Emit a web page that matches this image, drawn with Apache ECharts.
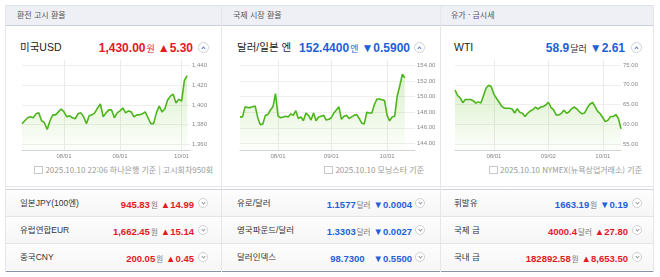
<!DOCTYPE html>
<html lang="ko">
<head>
<meta charset="utf-8">
<script src="https://cdn.jsdelivr.net/npm/echarts@6/dist/echarts.min.js"></script>
<style>
  body{margin:0;width:660px;height:277px;position:relative;overflow:hidden;background:#fff;
    font-family:"Liberation Sans","Noto Sans CJK KR",sans-serif;color:#222}
  .a{position:absolute}
  .hd{left:5px;top:5px;width:648px;height:19px;background:#eef0f5;border-top:1px solid #dde1e8;border-bottom:1px solid #c9ced8}
  .col{position:absolute;top:0;height:277px}
  .htxt{top:5px;line-height:20px;font-size:8px;color:#555;font-family:"Noto Sans CJK KR",sans-serif}
  .vl{top:5px;width:1px;height:267px;background:#e4e6ea}
  .name{top:39px;line-height:16px;font-size:10.5px;color:#222}
  .val{top:38px;line-height:18px;white-space:nowrap}
  .val b{font-size:12px}
  .val i{font-style:normal;font-size:9px;font-family:"Noto Sans CJK KR",sans-serif;margin:0 3px 0 1px}
  .red{color:#e3191f}
  .blue{color:#1f5fd8}
  .btn{width:9px;height:9px;border:1px solid #cfd2d8;border-radius:50%;background:#fff}
  .btn:after{content:"";position:absolute;left:3px;width:2px;height:2px;border-left:1px solid #5b77c4;border-top:1px solid #5b77c4}
  .up:after{top:4px;transform:rotate(45deg)}
  .dn{width:8px;height:8px}
  .dn:after{top:2px;left:2.5px;border-color:#999;transform:rotate(225deg)}
  .foot{top:164px;line-height:12px;font-size:8px;color:#999;white-space:nowrap;font-family:"Noto Sans CJK KR",sans-serif}
  .foot s{display:inline-block;width:7px;height:6px;border:1px solid #c8c8c8;margin-right:2px;vertical-align:-1px}
  .sep{left:5px;width:649px;height:1px}
  .row{height:26px;left:0;right:0;background:linear-gradient(#fdfdfd,#f6f6f6);border-bottom:1px solid #e2e4e8}
  .lab{font-size:8.5px;line-height:26px;color:#333}
  .rv{line-height:26px;white-space:nowrap}
  .rv b{font-size:9.5px}
  .rv i{font-style:normal;font-size:7.5px;color:#777;margin:0 3px 0 1px;font-family:"Noto Sans CJK KR",sans-serif}
  .chart{top:55px;height:115px}
</style>
</head>
<body>
<div class="a hd"></div>
<div class="a sep" style="top:186px;background:#e6e6e6"></div>
<div class="a sep" style="top:189px;background:#cfd3da"></div>
<div class="a sep" style="top:271px;height:1px;background:#8a93a5"></div>

<!-- 환전 고시 환율 -->
<div class="col" style="left:5px;width:216px">
  <div class="a htxt" style="left:12px">환전 고시 환율</div>
  <div class="a name" style="left:15px">미국USD</div>
  <div class="a val red" style="right:28px"><b>1,430.00</b><i>원</i><b>▲5.30</b></div>
  <div class="a btn up" style="left:193px;top:42px"></div>
  <div class="a foot" style="right:8px"><s></s>2025.10.10 22:06 하나은행 기준 | 고시회차950회</div>
  <div class="a" style="top:190px;left:0;right:0">
    <div class="row" style="position:relative"><span class="a lab" style="left:15px">일본JPY(100엔)</span><span class="a rv red" style="right:27px"><b>945.83</b><i>원</i><b>▲14.99</b></span><span class="a btn dn" style="left:193px;top:8px"></span></div>
    <div class="row" style="position:relative"><span class="a lab" style="left:15px">유럽연합EUR</span><span class="a rv red" style="right:27px"><b>1,662.45</b><i>원</i><b>▲15.14</b></span><span class="a btn dn" style="left:193px;top:8px"></span></div>
    <div class="row" style="position:relative;border-bottom:none"><span class="a lab" style="left:15px">중국CNY</span><span class="a rv red" style="right:27px"><b>200.05</b><i>원</i><b>▲0.45</b></span><span class="a btn dn" style="left:193px;top:8px"></span></div>
  </div>
  <div id="c1" class="a chart" style="left:0;width:216px"></div>
</div>

<!-- 국제 시장 환율 -->
<div class="col" style="left:221px;width:219px">
  <div class="a htxt" style="left:12px">국제 시장 환율</div>
  <div class="a name" style="left:16px">달러/일본 엔</div>
  <div class="a val blue" style="right:30px"><b>152.4400</b><i>엔</i><b>▼0.5900</b></div>
  <div class="a btn up" style="left:193px;top:42px"></div>
  <div class="a foot" style="right:16px"><s></s>2025.10.10 모닝스타 기준</div>
  <div class="a" style="top:190px;left:0;right:0">
    <div class="row" style="position:relative"><span class="a lab" style="left:16px">유로/달러</span><span class="a rv blue" style="right:28px"><b>1.1577</b><i>달러</i><b>▼0.0004</b></span><span class="a btn dn" style="left:194px;top:8px"></span></div>
    <div class="row" style="position:relative"><span class="a lab" style="left:16px">영국파운드/달러</span><span class="a rv blue" style="right:28px"><b>1.3303</b><i>달러</i><b>▼0.0027</b></span><span class="a btn dn" style="left:194px;top:8px"></span></div>
    <div class="row" style="position:relative;border-bottom:none"><span class="a lab" style="left:16px">달러인덱스</span><span class="a rv blue" style="right:28px"><b>98.7300</b>&nbsp;&nbsp;<b>▼0.5500</b></span><span class="a btn dn" style="left:194px;top:8px"></span></div>
  </div>
  <div id="c2" class="a chart" style="left:0;width:219px"></div>
</div>

<!-- 유가 · 금시세 -->
<div class="col" style="left:440px;width:214px">
  <div class="a htxt" style="left:11px">유가 · 금시세</div>
  <div class="a name" style="left:14px">WTI</div>
  <div class="a val blue" style="right:29px"><b>58.9</b><i style="color:#333">달러</i><b>▼2.61</b></div>
  <div class="a btn up" style="left:191px;top:42px"></div>
  <div class="a foot" style="right:12px"><s></s>2025.10.10 NYMEX(뉴욕상업거래소) 기준</div>
  <div class="a" style="top:190px;left:0;right:0">
    <div class="row" style="position:relative"><span class="a lab" style="left:14px">휘발유</span><span class="a rv blue" style="right:26px"><b>1663.19</b><i>원</i><b>▼0.19</b></span><span class="a btn dn" style="left:192px;top:8px"></span></div>
    <div class="row" style="position:relative"><span class="a lab" style="left:14px">국제 금</span><span class="a rv red" style="right:26px"><b>4000.4</b><i>달러</i><b>▲27.80</b></span><span class="a btn dn" style="left:192px;top:8px"></span></div>
    <div class="row" style="position:relative;border-bottom:none"><span class="a lab" style="left:14px">국내 금</span><span class="a rv red" style="right:26px"><b>182892.58</b><i>원</i><b>▲8,653.50</b></span><span class="a btn dn" style="left:192px;top:8px"></span></div>
  </div>
  <div id="c3" class="a chart" style="left:0;width:214px"></div>
</div>

<div class="a vl" style="left:5px"></div>
<div class="a vl" style="left:221px"></div>
<div class="a vl" style="left:440px"></div>
<div class="a vl" style="left:653px"></div>

<script>
// 미국USD (하나은행 고시, 영업일)
const usdDates = ['07/11','07/14','07/15','07/16','07/17','07/18','07/21','07/22','07/23','07/24','07/25','07/28','07/29','07/30','07/31',
  '08/01','08/04','08/05','08/06','08/07','08/08','08/11','08/12','08/13','08/14','08/18','08/19','08/20','08/21','08/22','08/25','08/26','08/27','08/28','08/29',
  '09/01','09/02','09/03','09/04','09/05','09/08','09/09','09/10','09/11','09/12','09/15','09/16','09/17','09/18','09/19','09/22','09/23','09/24','09/25','09/26','09/29','09/30',
  '10/01','10/02','10/10']
const usdValues = [1381,1384,1387,1388,1387,1391,1392,1384,1382,1375,1384,1390,1390,1393,1396,
  1393,1388,1389,1387,1386,1391,1392,1388,1381,1389,1390,1392,1397,1401,1388,1392,1395,1395,1387,1392,
  1394,1397,1392,1394,1393,1388,1390,1390,1391,1393,1387,1381,1381,1392,1399,1393,1396,1405,1409,1411,1402,1406,
  1404,1425,1430]
const usdMonthTicks = ['08/01','09/01','10/01']
const usdYTicks = [1360,1380,1400,1420,1440]

// 달러/일본 엔
const jpyDates = ['07/11','07/14','07/15','07/16','07/17','07/18','07/21','07/22','07/23','07/24','07/25','07/28','07/29','07/30','07/31',
  '08/01','08/04','08/05','08/06','08/07','08/08','08/11','08/12','08/13','08/14','08/15','08/18','08/19','08/20','08/21','08/22','08/25','08/26','08/27','08/28','08/29',
  '09/01','09/02','09/03','09/04','09/05','09/08','09/09','09/10','09/11','09/12','09/15','09/16','09/17','09/18','09/19','09/22','09/23','09/24','09/25','09/26','09/29','09/30',
  '10/01','10/02','10/03','10/06','10/07','10/08','10/09','10/10']
const jpyValues = [147.4,147.4,148.7,148.6,148.6,148.7,148.8,147.3,146.4,146.5,147.6,147.7,148.3,148.7,150.4,
  147.5,147.3,147.4,147.5,147.4,147.8,147.6,148.2,147.2,147.4,146.9,147.9,147.6,147.0,147.9,146.9,147.4,147.5,147.6,147.0,147.1,
  147.3,147.9,148.3,148.7,147.1,147.5,147.6,147.2,147.4,147.6,147.7,147.2,146.6,146.5,148.0,147.9,147.9,149.0,149.7,149.7,149.6,149.5,
  147.6,146.9,147.4,147.5,150.1,151.4,152.9,152.44]
const jpyMonthTicks = ['08/01','09/01','10/01']
const jpyYTicks = [144,146,148,150,152,154]

// WTI (NYMEX 거래일)
const wtiDates = ['07/11','07/14','07/15','07/16','07/17','07/18','07/21','07/22','07/23','07/24','07/25','07/28','07/29','07/30','07/31',
  '08/01','08/04','08/05','08/06','08/07','08/08','08/11','08/12','08/13','08/14','08/15','08/18','08/19','08/20','08/21','08/22','08/25','08/26','08/27','08/28','08/29',
  '09/02','09/03','09/04','09/05','09/08','09/09','09/10','09/11','09/12','09/15','09/16','09/17','09/18','09/19','09/22','09/23','09/24','09/25','09/26','09/29','09/30',
  '10/01','10/02','10/03','10/06','10/07','10/08','10/09','10/10']
const wtiValues = [68.7,67.3,66.7,65.5,66.3,66.3,66.3,66.0,65.4,65.7,65.4,67.3,69.2,69.9,69.5,
  67.6,66.6,65.6,64.6,64.1,64.1,64.1,63.9,62.9,64.0,63.1,62.8,62.0,62.8,63.4,63.7,64.4,63.9,64.4,64.5,64.9,
  65.6,64.3,63.7,62.4,62.4,62.8,63.6,62.8,63.2,64.0,64.4,63.9,63.2,62.7,62.9,64.2,65.1,65.6,64.5,63.3,62.7,
  61.7,60.7,61.1,62.0,62.0,62.5,61.5,58.9]
const wtiMonthTicks = ['08/01','09/02','10/01']
const wtiYTicks = [55,60,65,70,75]

function makeChart(id, o) {
  const chart = echarts.init(document.getElementById(id))
  chart.setOption({
    animation: false,
    grid: { left: o.left, top: 5, width: o.width, height: 90 },
    xAxis: {
      type: 'category',
      data: o.dates,
      boundaryGap: false,
      max: o.xMax,
      axisLine: { lineStyle: { color: '#d2d2d2' } },
      axisTick: { show: false },
      axisLabel: {
        interval: (i, v) => o.months.includes(v),
        color: '#888', fontSize: 6, margin: 3, fontFamily: 'Liberation Sans'
      },
      splitLine: {
        show: true,
        interval: (i, v) => o.months.includes(v),
        lineStyle: { color: '#ebebeb' }
      }
    },
    yAxis: {
      type: 'value',
      position: 'right',
      min: o.yMin,
      max: o.yMax,
      axisLine: { show: false },
      axisTick: { show: false, customValues: o.yTicks },
      axisLabel: {
        customValues: o.yTicks,
        formatter: o.fmt,
        color: '#888', fontSize: 6, margin: 2, fontFamily: 'Liberation Sans'
      },
      splitLine: { lineStyle: { color: '#eeeeee' } }
    },
    series: [{
      type: 'line',
      data: o.values,
      symbol: 'none',
      lineStyle: { color: '#4cb51c', width: 1.6 },
      areaStyle: {
        color: new echarts.graphic.LinearGradient(0, 0, 0, 1, [
          { offset: 0, color: 'rgba(120,200,60,0.38)' },
          { offset: 1, color: 'rgba(120,200,60,0.02)' }
        ])
      }
    }]
  })
  return chart
}

makeChart('c1', {
  left: 17, width: 168, dates: usdDates, values: usdValues, months: usdMonthTicks,
  xMax: usdDates.length, yMin: 1354.2, yMax: 1445.8, yTicks: usdYTicks,
  fmt: v => v.toLocaleString('en-US')
})
makeChart('c2', {
  left: 19, width: 175, dates: jpyDates, values: jpyValues, months: jpyMonthTicks,
  xMax: jpyDates.length + 3, yMin: 143.14, yMax: 154.73, yTicks: jpyYTicks,
  fmt: v => v.toFixed(2)
})
makeChart('c3', {
  left: 15, width: 166, dates: wtiDates, values: wtiValues, months: wtiMonthTicks,
  yMin: 53.56, yMax: 76.26, yTicks: wtiYTicks,
  fmt: v => v.toFixed(2)
})
</script>
</body>
</html>
